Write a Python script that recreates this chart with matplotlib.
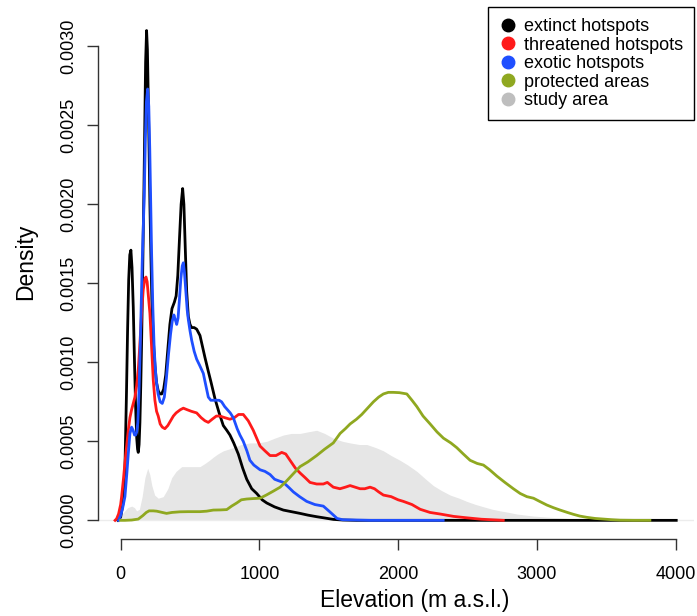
import matplotlib
matplotlib.use("Agg")
import matplotlib.pyplot as plt
from matplotlib.lines import Line2D

plt.rcParams['font.family'] = ['Liberation Sans', 'DejaVu Sans']

# elevation (m) and density values
ext_x = [-20, 0, 20, 31, 42, 50, 58, 66, 74, 82, 91, 100, 108, 116, 122, 127, 133, 139,
         145, 151, 157, 163, 168, 174, 180, 187, 193, 199, 205, 211, 218, 225, 235, 247,
         259, 271, 283, 296, 310, 325, 340, 355, 370, 387, 400, 412, 424, 436, 447, 456,
         466, 476, 488, 500, 512, 530, 548, 572, 590, 608, 630, 650, 680, 710, 740, 765,
         788, 815, 848, 880, 909, 945, 981, 1020, 1053, 1110, 1173, 1230, 1293, 1350,
         1413, 1470, 1533, 1600, 1700, 2000, 3000, 4005]
ext_y = [0, 0.00002, 0.00012, 0.00033, 0.0008, 0.0012, 0.00152, 0.00168, 0.00171,
         0.0016, 0.00135, 0.001, 0.00072, 0.00052, 0.00045, 0.00043, 0.00048, 0.00062,
         0.00085, 0.00112, 0.00145, 0.00182, 0.0021, 0.0025, 0.0029, 0.0031, 0.00298,
         0.00268, 0.00235, 0.002, 0.00168, 0.0014, 0.00115, 0.00098, 0.00087, 0.00082,
         0.0008, 0.0008, 0.00083, 0.00092, 0.00108, 0.00124, 0.00134, 0.00138, 0.00142,
         0.00155, 0.00178, 0.002, 0.0021, 0.002, 0.00172, 0.00145, 0.00129, 0.00124,
         0.00122, 0.00122, 0.00121, 0.00117, 0.0011, 0.00103, 0.00095, 0.00088, 0.00077,
         0.00068, 0.0006, 0.00057, 0.00054, 0.00049, 0.00042, 0.00033, 0.00026, 0.0002,
         0.00017, 0.00013, 0.00011, 0.000085, 0.000065, 0.000055, 0.000044, 0.000033,
         0.000023, 0.000015, 0.000006, 0.000002, 0, 0, 0, 0]

thr_x = [-40, -29, -15, 0, 7, 20, 35, 55, 67, 79, 91, 103, 115, 127, 139, 151, 163, 175,
         183, 191, 200, 211, 223, 235, 247, 259, 271, 285, 300, 319, 340, 360, 380, 400,
         430, 452, 480, 510, 548, 580, 608, 632, 660, 690, 716, 750, 788, 820, 850, 884,
         920, 956, 1005, 1040, 1077, 1120, 1161, 1190, 1221, 1260, 1293, 1330, 1365, 1413,
         1461, 1490, 1533, 1581, 1620, 1654, 1690, 1726, 1760, 1798, 1830, 1860, 1894,
         1950, 2000, 2038, 2100, 2159, 2230, 2303, 2400, 2495, 2600, 2758]
thr_y = [0, 0.00001, 0.00004, 0.0001, 0.00015, 0.00026, 0.0004, 0.00057, 0.00065, 0.0007,
         0.00074, 0.00078, 0.00085, 0.00095, 0.00112, 0.00131, 0.00146, 0.00153, 0.00154,
         0.00151, 0.00142, 0.00131, 0.0011, 0.00089, 0.00076, 0.00069, 0.00066, 0.00061,
         0.00059, 0.00058, 0.0006, 0.00063, 0.00066, 0.00068, 0.0007, 0.00071, 0.0007,
         0.00069, 0.00068, 0.00065, 0.00063, 0.00062, 0.00064, 0.00066, 0.00066, 0.00065,
         0.00064, 0.00065, 0.00067, 0.00067, 0.00063, 0.00057, 0.00047, 0.00044, 0.00041,
         0.00041, 0.00043, 0.00042, 0.00038, 0.00033, 0.0003, 0.00027, 0.00024, 0.00023,
         0.00023, 0.00024, 0.00021, 0.0002, 0.00021, 0.00022, 0.00021, 0.0002, 0.0002,
         0.00021, 0.0002, 0.00018, 0.00016, 0.00015, 0.00013, 0.00012, 0.0001, 0.00007,
         0.00005, 0.00004, 0.000025, 0.000016, 0.000007, 0]

exo_x = [-15, 0, 15, 31, 45, 55, 67, 79, 90, 100, 108, 116, 124, 132, 140, 148, 156, 163,
         170, 178, 186, 195, 203, 210, 216, 223, 232, 242, 255, 270, 285, 300, 315, 330,
         345, 360, 372, 384, 394, 404, 414, 424, 434, 444, 452, 460, 470, 480, 488, 500,
         512, 530, 548, 570, 596, 615, 632, 650, 670, 692, 710, 728, 750, 770, 790, 812,
         840, 860, 884, 910, 932, 960, 1005, 1040, 1077, 1110, 1140, 1173, 1210, 1245,
         1290, 1341, 1400, 1461, 1500, 1533, 1560, 1600, 1700, 1800, 2325]
exo_y = [0, 0.00003, 0.00008, 0.00015, 0.0003, 0.00042, 0.00055, 0.00059, 0.00057,
         0.00054, 0.00054, 0.00056, 0.00062, 0.0008, 0.00105, 0.00135, 0.00165, 0.00185,
         0.00205, 0.0024, 0.00265, 0.00273, 0.00262, 0.00235, 0.00205, 0.0017, 0.00135,
         0.00108, 0.0009, 0.0008, 0.00075, 0.00074, 0.00078, 0.0009, 0.00105, 0.00118,
         0.00126, 0.0013, 0.00127, 0.00124, 0.00128, 0.0014, 0.00153, 0.00161, 0.00163,
         0.00157, 0.00145, 0.00133, 0.00127, 0.0012, 0.00114, 0.00107, 0.00102, 0.00098,
         0.00093, 0.00085, 0.00078, 0.00076, 0.00076, 0.00076, 0.00076, 0.00075, 0.00072,
         0.0007, 0.00068, 0.00065, 0.00058, 0.00054, 0.0005, 0.00044, 0.00038, 0.00035,
         0.00032, 0.00031, 0.00029, 0.00026, 0.00025, 0.00024, 0.00021, 0.00018, 0.00015,
         0.00012, 0.0001, 0.00009, 0.00006, 0.000034, 0.000012, 0.000004, 0.000002, 0, 0]

pro_x = [0, 31, 80, 127, 160, 185, 205, 235, 260, 300, 331, 370, 428, 488, 572, 620, 668,
         720, 765, 800, 837, 870, 909, 960, 1005, 1050, 1101, 1150, 1197, 1250, 1293, 1350,
         1413, 1470, 1533, 1582, 1620, 1654, 1700, 1738, 1780, 1822, 1860, 1894, 1930,
         1966, 2010, 2063, 2100, 2135, 2180, 2231, 2280, 2327, 2380, 2423, 2470, 2519,
         2570, 2615, 2660, 2712, 2770, 2831, 2880, 2928, 2976, 3020, 3072, 3120, 3168,
         3220, 3264, 3310, 3361, 3420, 3481, 3540, 3601, 3700, 3815]
pro_y = [0, 0, 0.000002, 0.000008, 0.00003, 0.00005, 0.00006, 0.00006, 0.000058, 0.00005,
         0.000044, 0.00005, 0.000054, 0.000055, 0.000055, 0.000058, 0.000065, 0.000066,
         0.000068, 0.00009, 0.00011, 0.00013, 0.000135, 0.000138, 0.00014, 0.00016,
         0.000185, 0.00021, 0.00025, 0.0003, 0.00034, 0.00037, 0.00041, 0.00045, 0.00049,
         0.00055, 0.00058, 0.00061, 0.00064, 0.00067, 0.00071, 0.00075, 0.00078, 0.0008,
         0.00081, 0.00081, 0.000808, 0.0008, 0.00076, 0.00072, 0.00066, 0.00061, 0.00056,
         0.00052, 0.00049, 0.00046, 0.00042, 0.00038, 0.00036, 0.00035, 0.00032, 0.00028,
         0.00024, 0.0002, 0.00017, 0.00015, 0.00014, 0.00012, 0.000097, 0.00008, 0.000065,
         0.00005, 0.000038, 0.000027, 0.000019, 0.000012, 0.000008, 0.000004, 0.000001, 0, 0]

study_x = [-400, -60, -30, 0, 20, 50, 80, 100, 115, 135, 155, 175, 195, 210, 225, 245, 271,
           307, 340, 368, 400, 440, 464, 520, 572, 608, 640, 668, 700, 740, 812, 870, 932,
           990, 1053, 1110, 1173, 1230, 1293, 1350, 1413, 1470, 1533, 1600, 1654, 1720,
           1774, 1840, 1894, 1950, 2014, 2070, 2135, 2200, 2254, 2310, 2375, 2440, 2495,
           2560, 2615, 2680, 2735, 2800, 2856, 2920, 2976, 3100, 3216, 3340, 3457, 3600,
           3750, 4600]
study_y = [0, 0, 0.000005, 0.00002, 0.00005, 0.00008, 0.00009, 0.00008, 0.00006, 0.00007,
           0.00015, 0.00027, 0.00033, 0.00029, 0.00022, 0.00016, 0.00014, 0.00015, 0.0002,
           0.00027, 0.00031, 0.00034, 0.00034, 0.00034, 0.00034, 0.00036, 0.00038, 0.0004,
           0.00042, 0.00044, 0.00046, 0.00048, 0.00049, 0.00049, 0.0005, 0.00052, 0.00054,
           0.00055, 0.00055, 0.00056, 0.00057, 0.00055, 0.00052, 0.0005, 0.00049, 0.00048,
           0.00048, 0.00046, 0.00044, 0.00041, 0.00038, 0.00035, 0.00031, 0.00026, 0.00022,
           0.00019, 0.00016, 0.00014, 0.00012, 0.0001, 0.000086, 0.00007, 0.00006, 0.00005,
           0.00004, 0.000033, 0.000027, 0.000019, 0.000013, 0.000008, 0.000005, 0.000002,
           0, 0]

labels = ['extinct hotspots', 'threatened hotspots', 'exotic hotspots',
          'protected areas', 'study area']
colors = ['black', '#ff1a1a', '#1f4fff', '#8fa820', '#bebebe']

fig = plt.figure(figsize=(6.97, 6.16), dpi=100)
ax = fig.add_axes([98.3 / 697, 1 - 539.3 / 616, (694 - 98.3) / 697, (539.3 - 7) / 616])

ax.fill_between(study_x, study_y, 0, color='#e6e6e6', lw=0)
ax.axhline(0, color='#ececec', lw=1)
ax.plot(ext_x, ext_y, color=colors[0], lw=2)
ax.plot(thr_x, thr_y, color=colors[1], lw=2)
ax.plot(exo_x, exo_y, color=colors[2], lw=2)
ax.plot(pro_x, pro_y, color=colors[3], lw=2)

ax.set_xlim(-161, 4133)
ax.set_ylim(-0.00012, 0.003249)

ax.set_xticks([0, 1000, 2000, 3000, 4000])
ax.set_yticks([0, 0.0005, 0.001, 0.0015, 0.002, 0.0025, 0.003])
ax.set_yticklabels(['0.0000', '0.0005', '0.0010', '0.0015', '0.0020', '0.0025', '0.0030'],
                   rotation=90, va='center')
ax.tick_params(axis='both', direction='out', length=8, width=1, color='#333333',
               labelsize=13)
ax.tick_params(axis='x', pad=11)
ax.tick_params(axis='y', pad=7)

for side in ['top', 'right']:
    ax.spines[side].set_visible(False)
ax.spines['left'].set_bounds(0, 0.003)
ax.spines['bottom'].set_bounds(0, 4000)
for side in ['left', 'bottom']:
    ax.spines[side].set_color('#333333')
    ax.spines[side].set_linewidth(1)

ax.set_xlabel('Elevation (m a.s.l.)', fontsize=16.5, va='center')
ax.xaxis.set_label_coords((414.5 - 98.3) / 595.7, -0.115)
ax.set_ylabel('Density', fontsize=16.5, va='center')
ax.yaxis.set_label_coords((26 - 98.3) / 595.7, 0.521)

handles = [Line2D([], [], marker='o', linestyle='', markersize=9, color=c) for c in colors]
leg = ax.legend(handles, labels, loc='upper right', fontsize=13, frameon=True,
                fancybox=False, framealpha=1, edgecolor='black', borderaxespad=0,
                handlelength=0.94, handletextpad=0.4, labelspacing=0.08, borderpad=0.62)
leg.get_frame().set_linewidth(1)

fig.savefig('out.png', dpi=100)
